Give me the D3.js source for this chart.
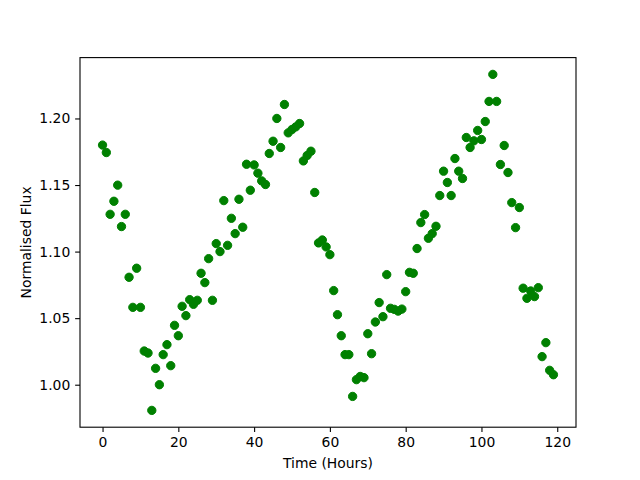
<!DOCTYPE html>
<html><head><meta charset="utf-8">
<script src="https://cdn.jsdelivr.net/npm/d3@7"></script>
<style>body{margin:0;background:#fff}svg{display:block}text{font-family:"DejaVu Sans",sans-serif}</style>
</head><body><svg id="c" width="640" height="480"></svg>
<script>
const hours = d3.range(0, 120);
const flux = [
1.180,1.1744,1.128,1.1378,1.1499,1.1188,1.128,1.0807,1.0581,1.0875,
1.0581,1.0253,1.0238,0.9807,1.0123,1.000,1.0226,1.0301,1.0143,1.0446,
1.0368,1.0589,1.0519,1.0639,1.0604,1.0634,1.0837,1.0767,1.0947,1.0634,
1.106,1.100,1.1383,1.1047,1.125,1.1135,1.1393,1.1183,1.1656,1.1461,
1.1651,1.1589,1.1531,1.1504,1.1737,1.1829,1.200,1.1782,1.2105,1.1892,
1.1917,1.1937,1.1962,1.1681,1.1722,1.1754,1.1444,1.1065,1.1087,1.1035,
1.0977,1.0707,1.0526,1.0368,1.0226,1.0226,0.9912,1.0038,1.0062,1.0053,
1.0383,1.0233,1.0471,1.0617,1.0511,1.0827,1.0574,1.0566,1.0553,1.0568,
1.0699,1.0844,1.0837,1.1023,1.1218,1.1278,1.110,1.1135,1.119,1.1421,
1.1604,1.1519,1.1421,1.1699,1.1604,1.1549,1.1857,1.1782,1.1832,1.191,
1.1842,1.1977,1.2128,1.2331,1.2128,1.1654,1.1797,1.1594,1.1368,1.118,
1.1331,1.0725,1.0649,1.0704,1.0662,1.0729,1.0211,1.0316,1.0108,1.0075];
const xTicks = [0,20,40,60,80,100,120];
const yTicks = [1.00,1.05,1.10,1.15,1.20];
const xLabel = "Time (Hours)";
const yLabel = "Normalised Flux";

const L=80,R=576,T=57.6,B=427.2;
const svg=d3.select("#c");
const xmin=d3.min(hours),xmax=d3.max(hours),xp=(xmax-xmin)*0.05;
const ymin=d3.min(flux),ymax=d3.max(flux),yp=(ymax-ymin)*0.05;
const x=d3.scaleLinear().domain([xmin-xp,xmax+xp]).range([L,R]);
const y=d3.scaleLinear().domain([ymin-yp,ymax+yp]).range([B,T]);

svg.append("g").selectAll("circle").data(hours).join("circle")
  .attr("cx",(d)=>x(d)).attr("cy",(d,i)=>y(flux[i])).attr("r",4.17)
  .attr("fill","#008000").attr("stroke","#008000").attr("stroke-width",1);

const xa=svg.append("g").attr("transform",`translate(0,${B})`)
  .call(d3.axisBottom(x).tickValues(xTicks).tickFormat(d3.format("d")).tickSize(4.86).tickPadding(4.86));
const ya=svg.append("g").attr("transform",`translate(${L},0)`)
  .call(d3.axisLeft(y).tickValues(yTicks).tickFormat(d3.format(".2f")).tickSize(4.86).tickPadding(4.86));
[xa,ya].forEach(g=>{g.select(".domain").remove();
  g.selectAll("line").attr("stroke","#000").attr("stroke-width",1.1);
  g.selectAll("text").attr("font-size","13.9px").attr("fill","#000").attr("font-family","DejaVu Sans");});

svg.append("rect").attr("x",L).attr("y",T).attr("width",R-L).attr("height",B-T)
  .attr("fill","none").attr("stroke","#000").attr("stroke-width",1.1);

svg.append("text").attr("x",(L+R)/2).attr("y",468).attr("text-anchor","middle")
  .attr("font-size","13.9px").text(xLabel);
svg.append("text").attr("transform",`translate(31,${(T+B)/2}) rotate(-90)`).attr("text-anchor","middle")
  .attr("font-size","13.9px").text(yLabel);
</script></body></html>
